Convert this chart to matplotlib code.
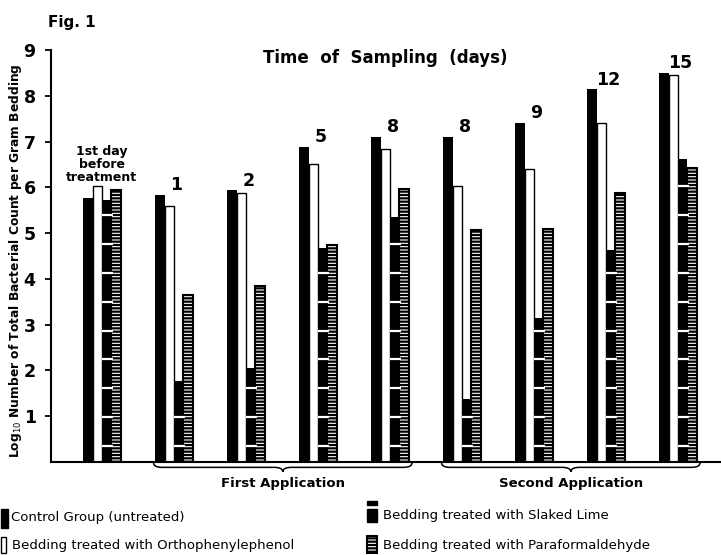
import numpy as np
import matplotlib
matplotlib.use('Agg')
import matplotlib.pyplot as plt
from matplotlib.patches import Rectangle, PathPatch
from matplotlib.path import Path
from matplotlib.transforms import blended_transform_factory

# log10 bacterial counts per gram bedding
day_labels = ['1st day\nbefore\ntreatment', '1', '2', '5', '8', '8', '9', '12', '15']
control = [5.77, 5.84, 5.94, 6.88, 7.10, 7.10, 7.41, 8.14, 8.50]
orthophenyl = [6.03, 5.59, 5.87, 6.50, 6.83, 6.03, 6.39, 7.40, 8.45]
slaked_lime = [5.72, 1.78, 2.05, 4.67, 5.36, 1.37, 3.14, 4.63, 6.61]
paraform = [5.94, 3.65, 3.84, 4.75, 5.96, 5.07, 5.10, 5.87, 6.43]
applications = [('First Application', 1, 4), ('Second Application', 5, 8)]
legend_names = ['Control Group (untreated)',
                'Bedding treated with Orthophenylephenol',
                'Bedding treated with Slaked Lime',
                'Bedding treated with Paraformaldehyde']

W, H = 721, 555
plt.rcParams['font.family'] = 'DejaVu Sans'
plt.rcParams['hatch.linewidth'] = 1.6

fig = plt.figure(figsize=(W / 100, H / 100), dpi=100)
ax = fig.add_axes([51 / W, 93 / H, 670 / W, 412 / H])

x = np.arange(len(control))
bw = [0.145, 0.125, 0.125, 0.135]  # bar widths
off = [0.0, 0.145, 0.27, 0.395]     # offsets inside a group

ax.bar(x + off[0], control, bw[0], align='edge', color='black', zorder=2)
ax.bar(x + off[1], orthophenyl, bw[1], align='edge', facecolor='white',
       edgecolor='black', lw=1.0, zorder=2)
ax.bar(x + off[2], slaked_lime, bw[2], align='edge', color='black', zorder=3)
ax.bar(x + off[3], paraform, bw[3], align='edge', facecolor='white',
       edgecolor='black', hatch='-----', lw=1.5, zorder=3)

# white dashes on the slaked lime bars
for i, h in enumerate(slaked_lime):
    for yy in np.arange(0.35, h - 0.2, 0.63):
        ax.plot([x[i] + off[2] - 0.01, x[i] + off[3] + 0.02], [yy, yy],
                color='white', lw=1.6, zorder=5, solid_capstyle='butt')

# day labels over each group
for i, lab in enumerate(day_labels):
    top = max(control[i], orthophenyl[i])
    if '\n' in lab:
        ax.text(x[i] + 0.26, top + 0.05, lab, ha='center', va='bottom',
                fontsize=9, fontweight='bold', linespacing=1.0)
    else:
        ax.text(x[i] + 0.3, top + 0.1, lab, ha='center', va='baseline',
                fontsize=12.5, fontweight='bold')

ax.set_xlim(-0.444, 8.861)
ax.set_ylim(0, 9)
ax.set_xticks([])
ax.set_yticks(np.arange(1, 10))
ax.set_yticklabels([str(v) for v in range(1, 10)], fontsize=12.5, fontweight='bold')
ax.tick_params(axis='y', length=4, width=1.3, pad=7)
for s in ['top', 'right']:
    ax.spines[s].set_visible(False)
ax.spines['left'].set_linewidth(1.5)
ax.spines['bottom'].set_linewidth(1.5)


def brace(x0, x1, label):
    trans = blended_transform_factory(ax.transData, ax.transAxes)
    xm = (x0 + x1) / 2
    y0, y1, y2 = -0.002, -0.013, -0.024
    d = 0.12
    verts = [(x0, y0), (x0, y1), (x0 + d, y1), (xm - d, y1), (xm, y1), (xm, y2),
             (xm, y1), (xm + d, y1), (x1 - d, y1), (x1, y1), (x1, y0)]
    codes = [Path.MOVETO, Path.CURVE3, Path.CURVE3, Path.LINETO, Path.CURVE3,
             Path.CURVE3, Path.CURVE3, Path.CURVE3, Path.LINETO, Path.CURVE3,
             Path.CURVE3]
    ax.add_patch(PathPatch(Path(verts, codes), transform=trans, fill=False,
                           lw=1.1, color='black', clip_on=False))
    ax.text(xm, -0.052, label, transform=trans, ha='center', va='center',
            fontsize=9.5, fontweight='bold')


for name, g0, g1 in applications:
    brace(x[g0] - 0.02, x[g1] + 0.57, name)

# title texts
fig.text(48 / W, 1 - 22 / H, 'Fig. 1', fontsize=11, fontweight='bold', va='center')
fig.text(385 / W, 1 - 58 / H, 'Time  of  Sampling  (days)', fontsize=12,
         fontweight='bold', ha='center', va='center')
fig.text(16 / W, 1 - 261 / H,
         r'Log$_{10}$ Number of Total Bacterial Count per Gram Bedding',
         rotation=90, fontsize=8.8, fontweight='bold', ha='center', va='center')


# legend drawn by hand in figure pixels
def px(xp, yp, wp, hp):
    return (xp / W, 1 - (yp + hp) / H), wp / W, hp / H


def swatch(xp, yp, wp, hp, **kw):
    xy, w, h = px(xp, yp, wp, hp)
    fig.add_artist(Rectangle(xy, w, h, transform=fig.transFigure, **kw))


swatch(1, 509, 7, 19, color='black')
swatch(1, 537, 5, 16, facecolor='white', edgecolor='black', lw=1.0)
swatch(367, 501, 10, 4, color='black')
swatch(367, 509, 10, 13, color='black')
swatch(367, 536, 10, 17, facecolor='white', edgecolor='black', hatch='-----', lw=1.5)

text_pos = [(11, 518), (12, 545), (383, 516), (383, 545)]
for (xp, yp), name in zip(text_pos, legend_names):
    fig.text(xp / W, 1 - yp / H, name, fontsize=9.5, va='center')

fig.savefig('out.png', dpi=100)
